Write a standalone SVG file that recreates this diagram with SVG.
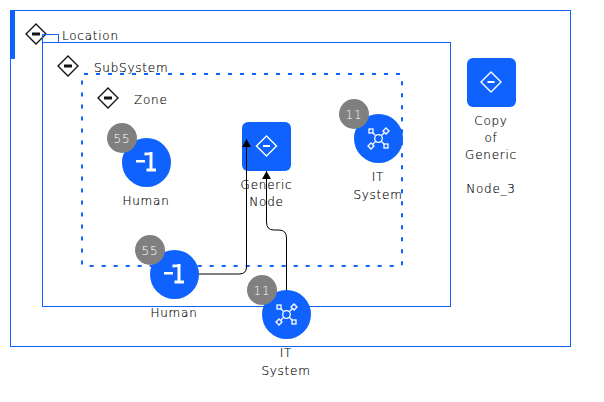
<svg xmlns="http://www.w3.org/2000/svg" width="604" height="402" viewBox="0 0 604 402">
<style>
text{font-family:"DejaVu Sans",sans-serif;font-weight:200;font-size:12px;fill:#000;stroke:#000;stroke-width:.15;letter-spacing:.75px}
.m{text-anchor:middle}
.box{fill:none;stroke:#0f62fe;stroke-width:1}
.b{fill:#0f62fe}
.g{fill:#808080}
text.bt{fill:#fff;stroke:none;font-size:12px;text-anchor:middle;letter-spacing:.8px}
.ic{fill:none;stroke:#fff;stroke-width:1.3}
.d{fill:#fff;stroke:#161616;stroke-width:1.4}
.c{fill:none;stroke:#000;stroke-width:1}
</style>
<defs>
<marker id="a" markerUnits="userSpaceOnUse" markerWidth="10" markerHeight="10" refX="8" refY="4.500" orient="auto"><path d="M0 0L8 4.500L0 9z" fill="#000"/></marker>
<g id="dia"><path d="M0-10L10 0L0 10L-10 0z" class="d"/><rect x="-4" y="-1.500" width="8" height="3" fill="#161616"/></g>
<g id="wd"><path d="M0-10L10 0L0 10L-10 0z" fill="none" stroke="#fff" stroke-width="1.400"/><rect x="-3.500" y="-1" width="7" height="2" fill="#fff"/></g>
<g id="hum"><circle r="24.500" class="b"/><path d="M-10.500-2.500h9v2.500h-9zM-2-10h5v-.5h3v16.500h3.500v3h-9.500v-3h3v-13.500l-5 .5z" fill="#fff"/></g>
<g id="it"><circle r="24.500" class="b"/><g class="ic"><circle r="3.800"/><path d="M-3-3L-6-6M3-3L6-6M-3 3L-6 6M3 3L6 6"/><rect x="-9.500" y="-9.500" width="4" height="4"/><rect x="5.500" y="5.500" width="4" height="4"/><path d="M7.500-10.500L10.500-7.500L7.500-4.500L4.500-7.500zM-7.500 4.500L-4.500 7.500L-7.500 10.500L-10.500 7.500z"/></g></g>
</defs>
<g id="location"><rect class="box" x="10.500" y="10.500" width="560" height="336"/><rect class="b" x="10" y="10" width="5" height="49"/><use href="#dia" x="36" y="34"/><text x="62" y="40">Location</text><rect class="box" x="42.500" y="34.500" width="16" height="8"/></g>
<g id="subsystem"><rect class="box" x="42.500" y="42.500" width="408" height="264"/><use href="#dia" x="68" y="66"/><text x="94" y="72">SubSystem</text></g>
<g id="zone"><rect x="82" y="74" width="320" height="192" fill="none" stroke="#0f62fe" stroke-width="2" stroke-dasharray="4 8" rx="2"/><use href="#dia" x="108" y="98"/><text x="134" y="104">Zone</text></g>
<g id="generic"><rect class="b" x="242" y="122" width="49" height="49" rx="6"/><use href="#wd" x="266.500" y="146"/><text class="m" x="266.500" y="189">Generic</text><text class="m" x="266.500" y="206">Node</text></g>
<g id="copy"><rect class="b" x="467" y="58" width="49" height="49" rx="6"/><use href="#wd" x="491" y="82"/><text class="m" x="491" y="125">Copy</text><text class="m" x="491" y="142">of</text><text class="m" x="491" y="159">Generic</text><text class="m" x="491" y="193">Node_3</text></g>
<g id="human1"><use href="#hum" x="146.500" y="162.500"/><circle class="g" cx="122" cy="138" r="15"/><text class="bt" x="122" y="143">55</text><text class="m" x="146" y="205">Human</text></g>
<g id="it1"><use href="#it" x="378.500" y="138.500"/><circle class="g" cx="354" cy="114" r="15"/><text class="bt" x="354" y="119">11</text><text class="m" x="378" y="181">IT</text><text class="m" x="378" y="199">System</text></g>
<g id="human2"><use href="#hum" x="174.500" y="274.500"/><circle class="g" cx="150" cy="250" r="15"/><text class="bt" x="150" y="255">55</text><text class="m" x="174" y="317">Human</text></g>
<g id="it2"><use href="#it" x="286.500" y="314.500"/><circle class="g" cx="262" cy="290" r="15"/><text class="bt" x="262" y="295">11</text><text class="m" x="286" y="357">IT</text><text class="m" x="286" y="375">System</text></g>
<g id="connectors"><path class="c" marker-end="url(#a)" d="M199 274H239Q246.500 274 246.500 267V139"/><path class="c" marker-end="url(#a)" d="M286.500 290V238Q286.500 230 279 230H274Q266.500 230 266.500 222V171"/></g>
</svg>
